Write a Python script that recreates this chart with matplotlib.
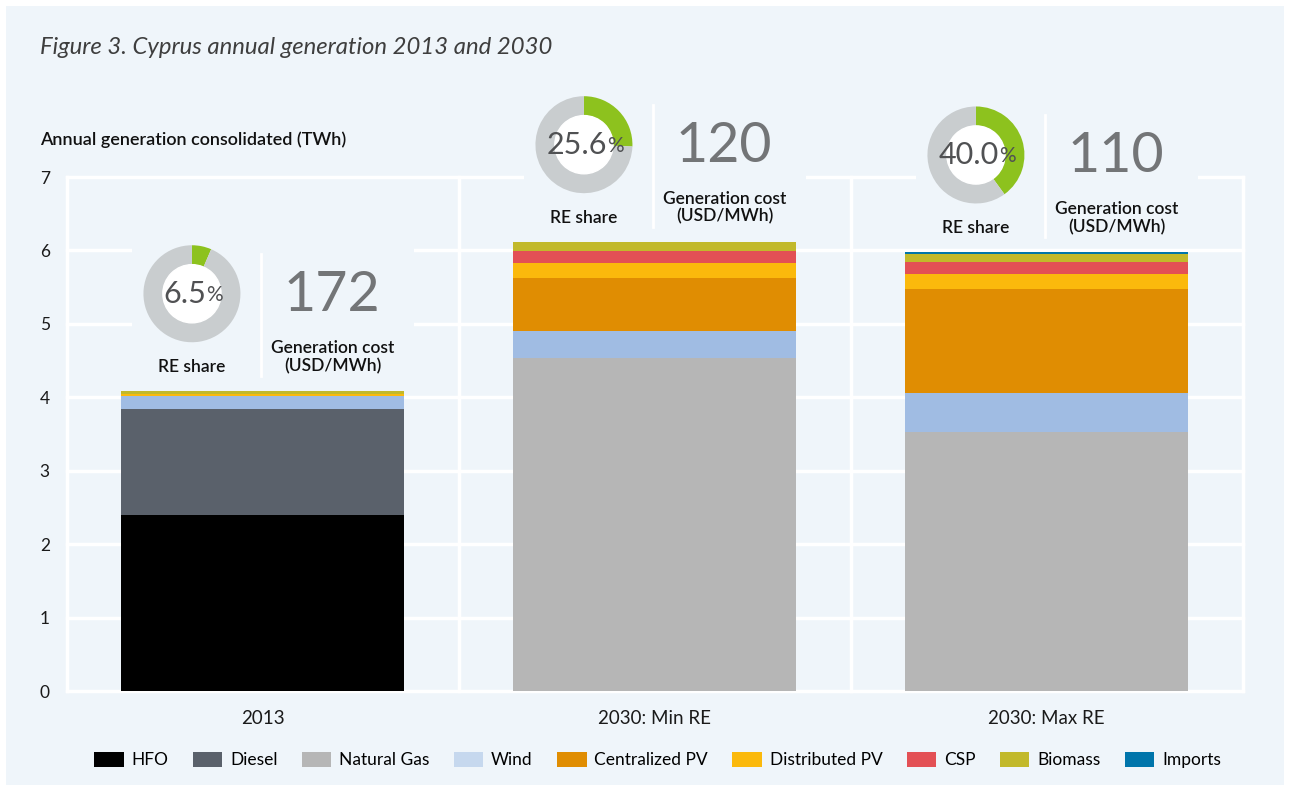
import matplotlib
matplotlib.use("Agg")
import matplotlib.pyplot as plt
from matplotlib.patches import Rectangle, Patch, Circle
from matplotlib.lines import Line2D

plt.rcParams['font.family'] = ['Lato', 'DejaVu Sans']

# data (TWh)
scenarios = ["2013", "2030: Min RE", "2030: Max RE"]
sources = ["HFO", "Diesel", "Natural Gas", "Wind", "Centralized PV",
           "Distributed PV", "CSP", "Biomass", "Imports"]
hfo = [2.40, 0, 0]
diesel = [1.44, 0, 0]
natural_gas = [0, 4.54, 3.53]
wind = [0.18, 0.36, 0.53]
centralized_pv = [0, 0.73, 1.42]
distributed_pv = [0.03, 0.20, 0.20]
csp = [0, 0.16, 0.16]
biomass = [0.04, 0.13, 0.11]
imports = [0, 0, 0.03]
re_share = [6.5, 25.6, 40.0]
gen_cost = [172, 120, 110]

series = [hfo, diesel, natural_gas, wind, centralized_pv,
          distributed_pv, csp, biomass, imports]
bar_colors = ["#000000", "#5a616b", "#b6b6b6", "#a0bce3", "#e08d02",
              "#fbb90c", "#e35055", "#c2b92b", "#0075ab"]
legend_colors = list(bar_colors)
legend_colors[3] = "#c6d8ee"

BG = "#eff5fa"
W, H = 1290, 791

fig = plt.figure(figsize=(W / 100, H / 100), dpi=100, facecolor="white")
fig.add_artist(Rectangle((6 / W, 6 / H), 1278 / W, 779 / H, transform=fig.transFigure,
                         facecolor=BG, edgecolor="none", zorder=-10))

ax = fig.add_axes([66.5 / W, 100 / H, 1176 / W, 514 / H])
ax.set_facecolor(BG)
ax.set_xlim(-0.5, 2.5)
ax.set_ylim(0, 7)

for yv in range(8):
    ax.axhline(yv, color="white", lw=2.5, zorder=0.5, clip_on=False)
for xv in [-0.5, 0.5, 1.5, 2.5]:
    ax.axvline(xv, color="white", lw=2.5, zorder=0.5, clip_on=False)

x = list(range(len(scenarios)))
bottom = [0.0] * len(scenarios)
for vals, col in zip(series, bar_colors):
    ax.bar(x, vals, width=0.72, bottom=bottom, color=col, zorder=2)
    bottom = [b + v for b, v in zip(bottom, vals)]
totals = bottom

for s in ax.spines.values():
    s.set_visible(False)
ax.set_xticks(x, scenarios)
ax.set_yticks(range(8))
ax.tick_params(axis="x", length=0, pad=14, labelsize=13.5, labelcolor="#1a1a1a")
ax.tick_params(axis="y", length=0, pad=12, labelsize=12.5, labelcolor="#1a1a1a")

# annotations: RE share donut + generation cost
for i in x:
    cx, cy = ax.transData.transform((i - 0.18, totals[i] + 1.32))
    fig.add_artist(Rectangle(((cx - 60) / W, (cy - 90) / H), 282 / W, 150 / H,
                             transform=fig.transFigure, facecolor=BG,
                             edgecolor="none", zorder=1))
    dax = fig.add_axes([(cx - 48.5) / W, (cy - 48.5) / H, 97 / W, 97 / H], zorder=3)
    dax.pie([re_share[i], 100 - re_share[i]], colors=["#8dc21e", "#c9cdcf"],
            startangle=90, counterclock=False, radius=1,
            wedgeprops=dict(width=0.4, edgecolor="none"))
    dax.add_patch(Circle((0, 0), 0.6, color="white"))
    dax.set_xlim(-1, 1)
    dax.set_ylim(-1, 1)
    dax.axis("off")

    t = dax.text(-0.15, 0, f"{re_share[i]:.1f}", ha="center", va="center",
                 fontsize=22, color="#505153")
    dax.annotate("%", xy=(1, 0.1), xycoords=t, ha="left", va="bottom",
                 fontsize=15, color="#505153", annotation_clip=False)

    fig.add_artist(Line2D([(cx + 69) / W] * 2, [(cy - 82) / H, (cy + 40) / H],
                          transform=fig.transFigure, color="white", lw=2, zorder=2))
    fig.text((cx + 140) / W, (cy - 2) / H, str(gen_cost[i]), ha="center", va="center",
             fontsize=40, color="#737577", zorder=5)
    fig.text((cx + 141) / W, (cy - 63) / H, "Generation cost\n(USD/MWh)", ha="center",
             va="center", fontsize=12.5, weight="semibold", color="#111111",
             linespacing=1.15, zorder=5)
    fig.text(cx / W, (cy - 73) / H, "RE share", ha="center", va="center",
             fontsize=12.5, weight="semibold", color="#111111", zorder=5)

fig.text(40 / W, (H - 48) / H, "Figure 3. Cyprus annual generation 2013 and 2030",
         ha="left", va="center", fontsize=17.2, style="italic", weight="normal",
         color="#3e3e3e")
fig.text(40 / W, (H - 140) / H, "Annual generation consolidated (TWh)", ha="left",
         va="center", fontsize=13, weight="semibold", color="#111111")

handles = [Patch(facecolor=c, edgecolor="none") for c in legend_colors]
fig.legend(handles, sources, loc="center", bbox_to_anchor=(657.5 / W, 31 / H), ncol=9,
           frameon=False, fontsize=12.5, handlelength=1.7, handleheight=1.0,
           columnspacing=1.4, handletextpad=0.45)

fig.savefig("out.png", dpi=100, facecolor="white")
